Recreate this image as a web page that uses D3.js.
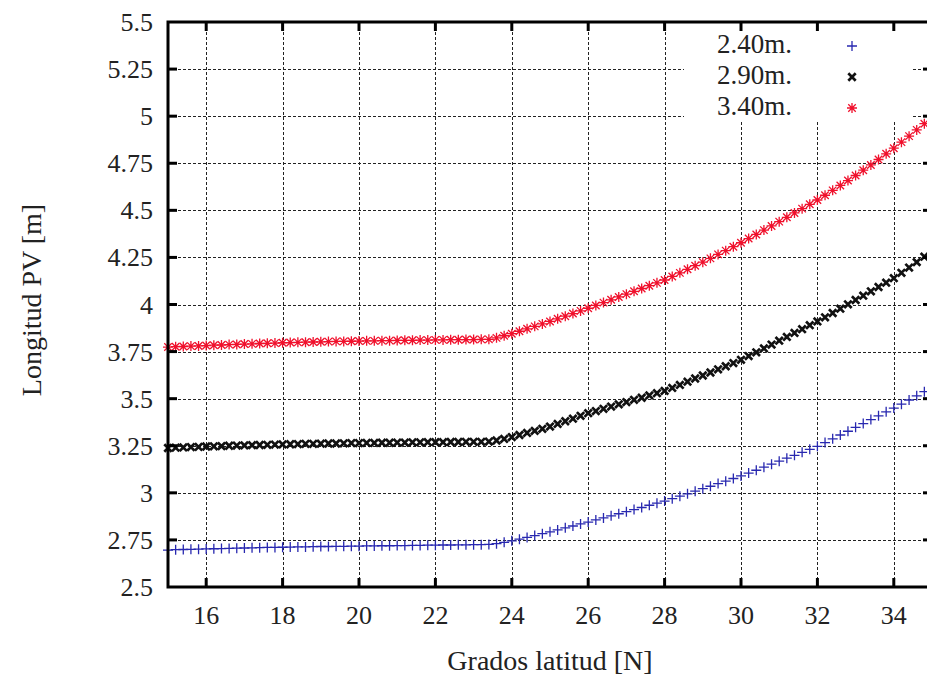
<!DOCTYPE html>
<html>
<head>
<meta charset="utf-8">
<script src="https://cdn.jsdelivr.net/npm/d3@7"></script>
<style>
  html, body { margin: 0; padding: 0; background: #fff; }
  svg text { font-family: "Liberation Serif", "DejaVu Serif", serif; fill: #222; }
</style>
</head>
<body>
<div id="chart"></div>
<script>
// latitudes (deg N), one point every 0.2 deg
const latitudes = [
  15.0, 15.2, 15.4, 15.6, 15.8, 16.0, 16.2, 16.4, 16.6, 16.8,
  17.0, 17.2, 17.4, 17.6, 17.8, 18.0, 18.2, 18.4, 18.6, 18.8,
  19.0, 19.2, 19.4, 19.6, 19.8, 20.0, 20.2, 20.4, 20.6, 20.8,
  21.0, 21.2, 21.4, 21.6, 21.8, 22.0, 22.2, 22.4, 22.6, 22.8,
  23.0, 23.2, 23.4, 23.6, 23.8, 24.0, 24.2, 24.4, 24.6, 24.8,
  25.0, 25.2, 25.4, 25.6, 25.8, 26.0, 26.2, 26.4, 26.6, 26.8,
  27.0, 27.2, 27.4, 27.6, 27.8, 28.0, 28.2, 28.4, 28.6, 28.8,
  29.0, 29.2, 29.4, 29.6, 29.8, 30.0, 30.2, 30.4, 30.6, 30.8,
  31.0, 31.2, 31.4, 31.6, 31.8, 32.0, 32.2, 32.4, 32.6, 32.8,
  33.0, 33.2, 33.4, 33.6, 33.8, 34.0, 34.2, 34.4, 34.6, 34.8,
  35.0
];

// Longitud PV [m] for panel height 2.40 m
const pv240 = [
  2.696, 2.698, 2.699, 2.700, 2.701, 2.702, 2.703, 2.704, 2.705, 2.706,
  2.707, 2.708, 2.709, 2.710, 2.710, 2.711, 2.712, 2.713, 2.713, 2.714,
  2.715, 2.715, 2.716, 2.716, 2.717, 2.717, 2.718, 2.718, 2.719, 2.719,
  2.720, 2.720, 2.721, 2.721, 2.722, 2.722, 2.723, 2.723, 2.724, 2.724,
  2.725, 2.725, 2.726, 2.730, 2.737, 2.745, 2.754, 2.763, 2.773, 2.783,
  2.793, 2.803, 2.814, 2.824, 2.835, 2.845, 2.856, 2.867, 2.878, 2.889,
  2.900, 2.911, 2.922, 2.934, 2.945, 2.956, 2.969, 2.982, 2.995, 3.009,
  3.022, 3.035, 3.049, 3.062, 3.076, 3.090, 3.105, 3.120, 3.136, 3.152,
  3.168, 3.184, 3.199, 3.215, 3.231, 3.247, 3.267, 3.287, 3.307, 3.327,
  3.348, 3.368, 3.389, 3.409, 3.430, 3.450, 3.471, 3.493, 3.515, 3.537,
  3.560
];

// panel height 2.90 m
const pv290 = [
  3.238, 3.240, 3.241, 3.243, 3.244, 3.246, 3.247, 3.248, 3.250, 3.251,
  3.252, 3.253, 3.254, 3.255, 3.256, 3.257, 3.258, 3.259, 3.260, 3.260,
  3.261, 3.262, 3.262, 3.263, 3.264, 3.264, 3.265, 3.265, 3.266, 3.266,
  3.267, 3.267, 3.268, 3.268, 3.269, 3.269, 3.269, 3.270, 3.270, 3.271,
  3.271, 3.271, 3.272, 3.278, 3.286, 3.296, 3.307, 3.318, 3.329, 3.340,
  3.352, 3.366, 3.380, 3.394, 3.409, 3.423, 3.434, 3.446, 3.458, 3.470,
  3.482, 3.494, 3.505, 3.517, 3.529, 3.541, 3.557, 3.573, 3.590, 3.607,
  3.623, 3.639, 3.656, 3.672, 3.689, 3.706, 3.726, 3.746, 3.767, 3.787,
  3.808, 3.828, 3.849, 3.869, 3.890, 3.910, 3.932, 3.955, 3.978, 4.001,
  4.024, 4.047, 4.070, 4.093, 4.116, 4.140, 4.168, 4.196, 4.225, 4.254,
  4.283
];

// panel height 3.40 m
const pv340 = [
  3.774, 3.776, 3.777, 3.779, 3.780, 3.782, 3.784, 3.785, 3.787, 3.788,
  3.790, 3.791, 3.793, 3.794, 3.795, 3.797, 3.798, 3.799, 3.800, 3.801,
  3.802, 3.803, 3.804, 3.804, 3.805, 3.806, 3.807, 3.807, 3.808, 3.808,
  3.809, 3.810, 3.810, 3.811, 3.811, 3.812, 3.812, 3.813, 3.813, 3.814,
  3.814, 3.815, 3.815, 3.823, 3.834, 3.845, 3.858, 3.871, 3.884, 3.897,
  3.910, 3.924, 3.938, 3.952, 3.966, 3.980, 3.995, 4.010, 4.025, 4.040,
  4.055, 4.070, 4.085, 4.100, 4.115, 4.130, 4.149, 4.168, 4.187, 4.206,
  4.225, 4.245, 4.266, 4.286, 4.307, 4.328, 4.350, 4.372, 4.395, 4.417,
  4.440, 4.463, 4.486, 4.509, 4.532, 4.555, 4.580, 4.606, 4.632, 4.658,
  4.685, 4.713, 4.741, 4.770, 4.800, 4.830, 4.862, 4.894, 4.927, 4.960,
  4.994
];

const seriesNames = ['2.40m.', '2.90m.', '3.40m.'];
const xTicks = [16, 18, 20, 22, 24, 26, 28, 30, 32, 34];
const yTicks = [2.5, 2.75, 3, 3.25, 3.5, 3.75, 4, 4.25, 4.5, 4.75, 5, 5.25, 5.5];
const yTickLabels = ['2.5', '2.75', '3', '3.25', '3.5', '3.75', '4', '4.25', '4.5', '4.75', '5', '5.25', '5.5'];

const width = 927, height = 679;
const margin = {left: 168, right: 932, top: 22, bottom: 587};

const svg = d3.select('#chart').append('svg')
    .attr('width', width)
    .attr('height', height)
    .style('display', 'block');

svg.append('rect').attr('width', width).attr('height', height).attr('fill', '#fff');

const x = d3.scaleLinear().domain([15, 35]).range([margin.left, margin.right]);
const y = d3.scaleLinear().domain([2.5, 5.5]).range([margin.bottom, margin.top]);

// grid
const grid = svg.append('g')
    .attr('stroke', '#222')
    .attr('stroke-width', 1)
    .attr('stroke-dasharray', '3,2');

grid.selectAll('.gx')
    .data(xTicks)
    .enter()
    .append('line')
    .attr('x1', d => Math.round(x(d)) + 0.5)
    .attr('x2', d => Math.round(x(d)) + 0.5)
    .attr('y1', margin.top)
    .attr('y2', margin.bottom);

grid.selectAll('.gy')
    .data(yTicks.slice(1, -1))
    .enter()
    .append('line')
    .attr('x1', margin.left)
    .attr('x2', margin.right)
    .attr('y1', d => Math.round(y(d)) + 0.5)
    .attr('y2', d => Math.round(y(d)) + 0.5);

// legend box (opaque, hides grid)
svg.append('rect')
    .attr('x', 684)
    .attr('y', margin.top + 2)
    .attr('width', 228)
    .attr('height', 96)
    .attr('fill', '#fff');

// marker shapes
const plus = s => `M${-s},0H${s}M0,${-s}V${s}`;
const cross = s => `M${-s},${-s}L${s},${s}M${-s},${s}L${s},${-s}`;
const star = s => plus(s) + cross(s * 0.75);

const styles = [
  {values: pv240, path: plus(5), color: '#2828b0', width: 1.3},
  {values: pv290, path: cross(3.7), color: '#111', width: 2.7},
  {values: pv340, path: star(5), color: '#f0102c', width: 1.3}
];

styles.forEach(s => {
    svg.append('g')
        .selectAll('path')
        .data(latitudes.map((lat, i) => [lat, s.values[i]]))
        .enter()
        .append('path')
        .attr('transform', d => `translate(${x(d[0])},${y(d[1])})`)
        .attr('d', s.path)
        .attr('fill', 'none')
        .attr('stroke', s.color)
        .attr('stroke-width', s.width);
});

// legend
const legend = svg.append('g');
const legendY = [46, 77, 108];
seriesNames.forEach((name, i) => {
    legend.append('text')
        .attr('x', 792)
        .attr('y', legendY[i] + 7)
        .attr('text-anchor', 'end')
        .style('font-size', '27px')
        .text(name);
    legend.append('path')
        .attr('transform', `translate(852,${legendY[i]})`)
        .attr('d', styles[i].path)
        .attr('fill', 'none')
        .attr('stroke', styles[i].color)
        .attr('stroke-width', styles[i].width);
});

// border
svg.append('rect')
    .attr('x', margin.left)
    .attr('y', margin.top)
    .attr('width', margin.right - margin.left)
    .attr('height', margin.bottom - margin.top)
    .attr('fill', 'none')
    .attr('stroke', '#000')
    .attr('stroke-width', 3);

// inward ticks on all sides
const ticks = svg.append('g').attr('stroke', '#000').attr('stroke-width', 3);
xTicks.forEach(t => {
    ticks.append('line').attr('x1', x(t)).attr('x2', x(t)).attr('y1', margin.bottom).attr('y2', margin.bottom - 9);
    ticks.append('line').attr('x1', x(t)).attr('x2', x(t)).attr('y1', margin.top).attr('y2', margin.top + 9);
});
yTicks.slice(1, -1).forEach(t => {
    ticks.append('line').attr('x1', margin.left).attr('x2', margin.left + 9).attr('y1', y(t)).attr('y2', y(t));
    ticks.append('line').attr('x1', margin.right).attr('x2', margin.right - 9).attr('y1', y(t)).attr('y2', y(t));
});

// tick labels
svg.append('g').selectAll('text')
    .data(xTicks)
    .enter()
    .append('text')
    .attr('x', d => x(d))
    .attr('y', 624)
    .attr('text-anchor', 'middle')
    .style('font-size', '26px')
    .text(d => d);

svg.append('g').selectAll('text')
    .data(yTicks)
    .enter()
    .append('text')
    .attr('x', 153)
    .attr('y', d => y(d) + 9)
    .attr('text-anchor', 'end')
    .style('font-size', '26px')
    .text((d, i) => yTickLabels[i]);

// axis titles
svg.append('text')
    .attr('x', 550)
    .attr('y', 670)
    .attr('text-anchor', 'middle')
    .style('font-size', '28px')
    .text('Grados latitud [N]');

svg.append('text')
    .attr('transform', 'translate(41,300) rotate(-90)')
    .attr('text-anchor', 'middle')
    .style('font-size', '28px')
    .text('Longitud PV [m]');
</script>
</body>
</html>
